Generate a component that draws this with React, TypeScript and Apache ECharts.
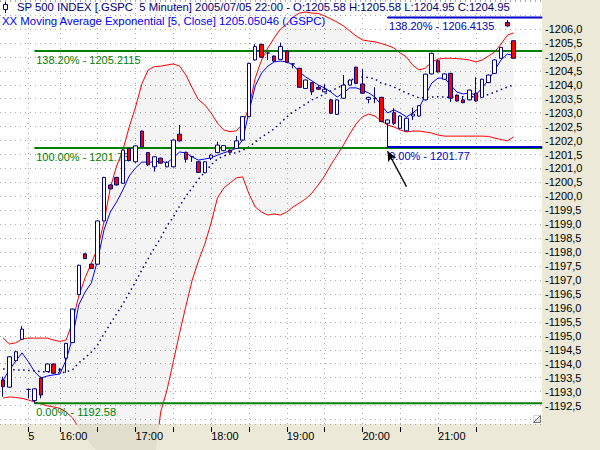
import React, { useEffect, useRef } from 'react';
import * as echarts from 'echarts';

const FONT = '"Liberation Sans", Arial, sans-serif';

// ---- axis categories (5-minute bars) ----
const prevDayTimes = ['21:45', '21:50', '21:55', '22:00'];
function sessionTimes(): string[] {
  const out: string[] = [];
  for (let m = 15 * 60 + 35; m <= 22 * 60 + 20; m += 5) {
    out.push(String(Math.floor(m / 60)).padStart(2, '0') + ':' + String(m % 60).padStart(2, '0'));
  }
  return out;
}
const categories = [
  ...prevDayTimes.map((t) => '07/01 ' + t),
  ...sessionTimes().map((t) => '07/05 ' + t),
];
const tickTimes = ['15:35', '16:00', '16:30', '17:00', '17:30', '18:00', '18:30', '19:00', '19:30', '20:00', '20:30', '21:00', '21:30'];
const labelTimes = ['15:35', '16:00', '17:00', '18:00', '19:00', '20:00', '21:00'];
const labelTexts = ['5', '16:00', '17:00', '18:00', '19:00', '20:00', '21:00'];

// ---- candles ----
const opens = [1193.42,1193.16,1194.11,1194.88,1193.08,1192.68,1193.49,1193.72,1193.99,1193.78,
1194.20,1194.76,1196.48,1197.94,1197.57,1197.57,1199.12,1200.41,1200.68,1200.47,
1201.72,1201.24,1202.34,1201.57,1201.06,1201.37,1201.06,1201.06,1202.23,1201.58,
1201.43,1201.24,1200.85,1201.37,1201.57,1201.64,1201.66,1201.72,1202.02,1202.86,
1204.89,1205.45,1205.14,1205.03,1204.91,1205.21,1204.75,1204.59,1203.87,1204.08,
1203.91,1203.75,1203.46,1202.94,1203.52,1203.99,1204.63,1204.03,1203.48,1203.51,
1203.55,1202.62,1203.00,1202.44,1202.35,1202.88,1202.88,1203.46,1204.39,1204.86,
1204.20,1204.41,1203.63,1203.46,1203.46,1203.70,1203.55,1204.08,1204.41,1204.95,
1206.23,1205.58];
const closes = [1193.18,1194.25,1194.43,1195.24,1193.08,1193.10,1192.88,1193.99,1193.66,1193.78,
1194.73,1195.96,1197.53,1197.77,1197.42,1199.12,1200.68,1200.27,1200.41,1201.66,
1201.28,1201.81,1201.78,1201.13,1201.42,1201.19,1201.22,1202.02,1201.99,1201.33,
1201.43,1200.86,1201.24,1201.48,1201.84,1201.82,1201.58,1201.99,1202.86,1204.77,
1205.37,1204.99,1205.14,1204.85,1205.37,1204.81,1204.75,1203.91,1204.17,1203.75,
1203.84,1203.84,1202.98,1203.46,1203.99,1204.17,1204.05,1203.70,1203.55,1203.51,
1202.68,1202.74,1202.62,1202.88,1202.80,1202.95,1203.25,1204.38,1205.13,1204.46,
1204.39,1203.52,1203.42,1203.36,1203.81,1203.42,1204.20,1204.35,1204.89,1205.34,
1206.11,1204.95];
const lows = [1192.82,1193.14,1194.09,1194.86,1192.77,1192.58,1192.76,1193.70,1193.64,1193.71,
1193.68,1194.74,1196.46,1197.75,1197.40,1197.55,1199.10,1200.25,1200.39,1200.45,
1201.26,1201.20,1201.76,1201.09,1200.89,1201.17,1201.04,1201.04,1201.97,1201.21,
1201.24,1200.84,1200.83,1201.30,1201.55,1201.62,1201.56,1201.70,1202.00,1202.84,
1204.87,1204.97,1204.89,1204.83,1204.89,1204.79,1204.59,1203.89,1203.85,1203.63,
1203.82,1203.73,1202.96,1202.92,1203.50,1203.97,1204.03,1203.68,1203.34,1203.34,
1202.66,1201.77,1202.56,1202.42,1202.33,1202.74,1202.86,1203.44,1204.37,1204.44,
1204.18,1203.39,1203.40,1203.34,1203.44,1203.40,1203.53,1204.06,1204.39,1204.93,
1206.09,1204.95];
const highs = [1193.54,1194.27,1194.45,1195.35,1193.10,1193.12,1193.54,1194.01,1194.01,1193.85,
1194.75,1195.98,1197.55,1197.96,1197.59,1199.14,1200.70,1200.43,1200.70,1201.68,
1201.73,1201.83,1202.36,1201.59,1201.44,1201.39,1201.25,1202.04,1202.56,1201.60,
1201.45,1201.26,1201.26,1201.50,1201.96,1201.84,1201.68,1202.16,1202.88,1204.79,
1205.46,1205.47,1205.15,1205.05,1205.51,1205.23,1204.77,1204.61,1204.19,1204.10,
1203.99,1204.02,1203.48,1203.48,1204.35,1204.19,1204.65,1204.56,1203.57,1203.91,
1203.57,1202.76,1203.16,1202.90,1202.82,1203.18,1203.27,1204.40,1205.15,1204.88,
1204.41,1204.43,1203.65,1203.56,1203.83,1204.27,1204.22,1204.37,1204.91,1205.36,
1206.32,1205.58];

// ---- indicators ----
const bbUpper = [1194.92,1194.71,1194.75,1194.89,1194.92,1194.92,1194.92,1194.92,1194.85,1194.80,
1194.85,1195.50,1196.43,1197.08,1197.61,1198.15,1199.08,1200.30,1201.09,1201.66,
1202.49,1203.20,1204.03,1204.53,1204.65,1204.67,1204.71,1204.75,1204.67,1204.35,
1203.89,1203.46,1203.28,1202.99,1202.63,1202.38,1202.32,1202.35,1202.60,1203.17,
1204.24,1204.89,1205.32,1205.68,1206.00,1206.18,1206.43,1206.57,1206.61,1206.57,
1206.56,1206.47,1206.36,1206.25,1206.11,1205.93,1205.75,1205.61,1205.57,1205.54,
1205.48,1205.41,1205.32,1205.14,1205.00,1204.70,1204.53,1204.60,1204.82,1204.92,
1204.95,1204.95,1204.94,1204.92,1204.89,1204.82,1204.89,1205.03,1205.18,1205.46,
1205.78,1205.86];
const bbMiddle = [1193.81,1193.80,1193.78,1193.78,1193.76,1193.74,1193.72,1193.71,1193.69,1193.67,
1193.71,1193.78,1194.03,1194.21,1194.42,1194.67,1195.07,1195.43,1195.79,1196.14,
1196.54,1196.93,1197.36,1197.76,1198.15,1198.51,1198.94,1199.26,1199.66,1200.01,
1200.30,1200.62,1200.87,1201.13,1201.34,1201.45,1201.52,1201.57,1201.65,1201.77,
1201.95,1202.13,1202.27,1202.42,1202.63,1202.85,1203.03,1203.17,1203.31,1203.46,
1203.56,1203.67,1203.78,1203.89,1203.99,1204.14,1204.26,1204.28,1204.26,1204.21,
1204.06,1204.01,1203.92,1203.81,1203.71,1203.62,1203.53,1203.55,1203.56,1203.57,
1203.56,1203.55,1203.56,1203.57,1203.56,1203.58,1203.60,1203.65,1203.74,1203.83,
1203.92,1203.99];
const bbLower = [1192.77,1192.81,1192.79,1192.76,1192.70,1192.63,1192.56,1192.49,1192.45,1192.40,
1192.27,1192.06,1191.70,1191.38,1191.09,1190.84,1190.62,1190.44,1190.34,1190.27,
1190.23,1190.23,1190.27,1190.34,1190.48,1192.27,1193.06,1194.07,1195.10,1196.07,
1197.00,1197.69,1198.29,1199.05,1199.94,1200.30,1200.48,1200.66,1200.70,1200.09,
1199.62,1199.44,1199.33,1199.37,1199.33,1199.44,1199.62,1199.76,1199.91,1200.12,
1200.41,1200.73,1201.13,1201.48,1201.84,1202.24,1202.60,1202.85,1202.95,1202.88,
1202.70,1202.56,1202.49,1202.38,1202.31,1202.34,1202.34,1202.31,1202.27,1202.20,
1202.16,1202.16,1202.16,1202.16,1202.16,1202.16,1202.16,1202.15,1202.09,1202.04,
1201.99,1202.13];
const ema5 = [1193.42,1193.78,1194.10,1194.39,1194.07,1193.71,1193.49,1193.56,1193.60,1193.63,
1194.14,1194.92,1196.11,1196.57,1196.90,1197.72,1198.80,1199.44,1199.80,1200.23,
1200.73,1201.02,1201.23,1201.23,1201.23,1201.27,1201.20,1201.38,1201.59,1201.56,
1201.41,1201.30,1201.34,1201.38,1201.48,1201.56,1201.63,1201.73,1202.02,1203.03,
1203.96,1204.42,1204.67,1204.82,1204.85,1204.82,1204.71,1204.46,1204.28,1204.14,
1203.99,1203.89,1203.74,1203.56,1203.71,1203.89,1203.89,1203.81,1203.71,1203.56,
1203.28,1202.99,1203.10,1202.99,1202.85,1202.99,1203.17,1203.63,1204.06,1204.24,
1204.24,1203.99,1203.74,1203.67,1203.71,1203.63,1203.89,1204.17,1204.53,1204.89,
1205.10,1205.05];

// ---- Fibonacci tools ----
const greenLevels = [1205.2115, 1201.73, 1192.58];
const greenLabels = ['138.20% - 1205.2115', '100.00% - 1201.73', '0.00% - 1192.58'];
const greenStartBar = 5;
const blueLevels = [1206.4135, 1201.77];
const blueLabels = ['138.20% - 1206.4135', '0.00% - 1201.77'];
const blueStartBar = 61;
const arrowFrom = [64.5, 1200.35];
const arrowTo = [61.5, 1201.62];

const titleText = 'SP 500 INDEX [.GSPC  5 Minuten] 2005/07/05 22:00 - O:1205.58 H:1205.58 L:1204.95 C:1204.95';
const subtitleText = 'XX Moving Average Exponential [5, Close] 1205.05046 (.GSPC)';

const Y_MIN = 1191.84;
const Y_MAX = 1207.04;

function buildOption() {
  const tickSet = new Set(tickTimes.map((t) => '07/05 ' + t));
  const labelMap: Record<string, string> = {};
  labelTimes.forEach((t, i) => (labelMap['07/05 ' + t] = labelTexts[i]));
  const candleData = opens.map((o, i) => [o, closes[i], lows[i], highs[i]]);
  const bandSpan = bbUpper.map((u, i) => +(u - bbLower[i]).toFixed(4));
  const nCat = categories.length;

  const fib = (levels: number[], labels: string[], start: number, color: string) =>
    levels.map((lv, k) => ({
      type: 'line',
      xAxisIndex: 1,
      yAxisIndex: 0,
      z: 8,
      silent: true,
      symbol: 'circle',
      symbolSize: 1,
      showSymbol: true,
      itemStyle: { color },
      lineStyle: { color, width: 2 },
      emphasis: { disabled: true },
      data: [
        {
          value: [start + 0.5, lv],
          label: {
            show: true,
            position: 'right',
            distance: 1,
            offset: [0, 9],
            formatter: labels[k],
            color,
            fontSize: 11,
            fontFamily: FONT,
          },
        },
        { value: [nCat, lv] },
      ],
    }));

  // arrow direction in screen space, for the arrow-head rotation
  const pxPerX = 542 / nCat;
  const pxPerY = 424 / (Y_MAX - Y_MIN);
  const dx = (arrowTo[0] - arrowFrom[0]) * pxPerX;
  const dy = -(arrowTo[1] - arrowFrom[1]) * pxPerY;
  const arrowRotate = (Math.atan2(-dx, -dy) * 180) / Math.PI;

  return {
    animation: false,
    backgroundColor: '#ECE9D8',
    grid: {
      show: true,
      backgroundColor: '#FFFFFF',
      borderWidth: 0,
      left: 0,
      top: 0,
      width: 542,
      height: 424,
      containLabel: false,
      outerBoundsMode: 'none',
    },
    xAxis: [
      {
        type: 'category',
        data: categories,
        boundaryGap: true,
        offset: 3,
        axisLine: { show: false },
        axisTick: {
          show: true,
          alignWithLabel: true,
          length: 5,
          interval: (_i: number, v: string) => tickSet.has(v),
          lineStyle: { color: '#000000', width: 1 },
        },
        axisLabel: {
          interval: (_i: number, v: string) => labelMap[v] !== undefined,
          formatter: (v: string) => labelMap[v] || '',
          align: 'left',
          margin: 3,
          color: '#000000',
          fontSize: 11,
          fontFamily: FONT,
        },
        splitLine: { show: false },
      },
      { type: 'value', min: 0, max: nCat, show: false },
    ],
    yAxis: {
      type: 'value',
      position: 'right',
      min: Y_MIN,
      max: Y_MAX,
      splitNumber: 30,
      axisLine: { show: false },
      axisTick: { show: false },
      axisLabel: {
        margin: 3,
        color: '#000000',
        fontSize: 11,
        fontFamily: FONT,
        formatter: (v: number) =>
          v >= 1192.49 && v <= 1206.01 ? '-' + v.toFixed(1).replace('.', ',') : '',
      },
      splitLine: { show: true, lineStyle: { color: '#ababab', width: 1, type: [1, 4] } },
    },
    graphic: [
      {
        type: 'group',
        z: 30,
        children: [
          { type: 'line', shape: { x1: 5.5, y1: 1, x2: 5.5, y2: 13 }, style: { stroke: '#000080', lineWidth: 1 } },
          { type: 'rect', shape: { x: 3.5, y: 4.5, width: 4, height: 5 }, style: { fill: '#FFFFFF', stroke: '#000080', lineWidth: 1 } },
        ],
      },
      {
        type: 'text',
        z: 30,
        x: 17,
        y: 7,
        style: { text: titleText, font: '11.3px ' + FONT, fill: '#000080', verticalAlign: 'middle', align: 'left' },
      },
      {
        type: 'text',
        z: 30,
        x: 2,
        y: 21,
        style: { text: subtitleText, font: '11.4px ' + FONT, fill: '#0000FF', verticalAlign: 'middle', align: 'left' },
      },
      {
        type: 'group',
        z: 30,
        children: [
          { type: 'rect', shape: { x: 533.5, y: 415.5, width: 7, height: 7 }, style: { fill: '#FFFFFF', stroke: '#D8D8D8', lineWidth: 1 } },
          { type: 'polygon', shape: { points: [[540.5, 415.5], [540.5, 422.5], [533.5, 422.5]] }, style: { fill: '#E4E4E4', stroke: '#6E6E6E', lineWidth: 1 } },
        ],
      },
    ],
    series: [
      {
        name: 'bbBase',
        type: 'line',
        data: bbLower,
        stack: 'bb',
        symbol: 'none',
        lineStyle: { opacity: 0 },
        clip: false,
        silent: true,
        z: 1,
      },
      {
        name: 'bbFill',
        type: 'line',
        data: bandSpan,
        stack: 'bb',
        symbol: 'none',
        lineStyle: { opacity: 0 },
        areaStyle: { color: 'rgba(0,0,0,0.06)' },
        clip: false,
        silent: true,
        z: 1,
        markLine: {
          silent: true,
          symbol: 'none',
          label: { show: false },
          emphasis: { disabled: true },
          lineStyle: { color: '#ababab', width: 1, type: [1, 4] },
          data: tickTimes.map((t) => ({ xAxis: '07/05 ' + t })),
        },
      },
      {
        name: 'upper',
        type: 'line',
        data: bbUpper,
        symbol: 'none',
        silent: true,
        z: 6,
        lineStyle: { color: '#FF0000', width: 1 },
      },
      {
        name: 'lower',
        type: 'line',
        data: bbLower,
        symbol: 'none',
        silent: true,
        z: 6,
        lineStyle: { color: '#FF0000', width: 1 },
      },
      {
        name: 'middle',
        type: 'line',
        data: bbMiddle,
        symbol: 'none',
        silent: true,
        z: 6,
        lineStyle: { color: '#000080', width: 1.5, type: [1.5, 3.5] },
      },
      {
        name: 'ema5',
        type: 'line',
        data: ema5,
        symbol: 'none',
        silent: true,
        z: 7,
        lineStyle: { color: '#0000FF', width: 1 },
      },
      ...fib(greenLevels, greenLabels, greenStartBar, '#008000'),
      ...fib(blueLevels, blueLabels, blueStartBar, '#0000CC'),
      {
        name: 'price',
        type: 'candlestick',
        data: candleData,
        barWidth: 4,
        z: 10,
        silent: true,
        itemStyle: {
          color: '#FFFFFF',
          color0: '#FF0000',
          borderColor: '#000080',
          borderColor0: '#000080',
          borderColorDoji: '#000080',
          borderWidth: 1,
        },
      },
      {
        name: 'arrow',
        type: 'line',
        xAxisIndex: 1,
        yAxisIndex: 0,
        z: 12,
        silent: true,
        showSymbol: true,
        symbol: 'none',
        itemStyle: { color: '#000000' },
        lineStyle: { color: '#000000', width: 1.3 },
        emphasis: { disabled: true },
        data: [
          { value: arrowFrom, symbol: 'none' },
          { value: arrowTo, symbol: 'arrow', symbolSize: [7, 10], symbolRotate: arrowRotate, symbolOffset: [0, 0] },
        ],
      },
    ],
  };
}

export default function App() {
  const ref = useRef<HTMLDivElement>(null);
  useEffect(() => {
    document.body.style.margin = '0';
    const chart = echarts.init(ref.current as HTMLDivElement, null, { renderer: 'svg' });
    chart.setOption(buildOption() as any);
    return () => chart.dispose();
  }, []);
  return (
    <div
      ref={ref}
      style={{ position: 'absolute', left: 0, top: 0, width: 600, height: 450 }}
    />
  );
}
